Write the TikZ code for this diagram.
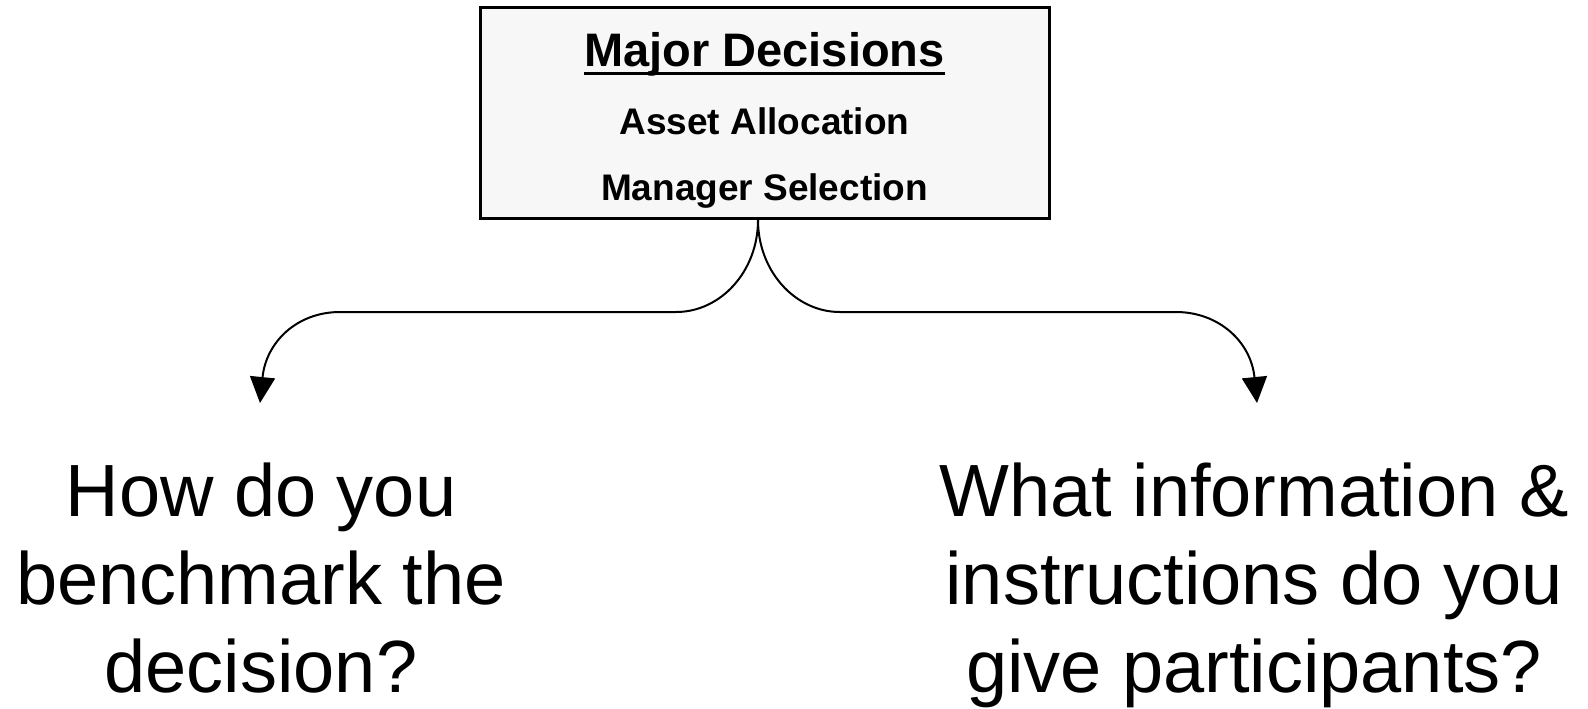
\documentclass[tikz,border=0pt]{standalone}
\usepackage{fontspec}
\setmainfont{Liberation Sans}
\usetikzlibrary{arrows.meta}
\definecolor{boxfill}{HTML}{F7F7F7}
\tikzset{
  mainbox/.style={draw=black, line width=1.5pt, fill=boxfill, minimum width=284.5pt, minimum height=105.8pt, inner sep=0pt},
  titletext/.style={font=\fontsize{23.5}{28}\selectfont\bfseries, anchor=base, inner sep=0pt},
  itemtext/.style={font=\fontsize{18.5}{22}\selectfont\bfseries, anchor=base, inner sep=0pt},
  question/.style={font=\fontsize{37}{44}\selectfont, align=center, anchor=base, inner sep=0pt},
  flow/.style={line width=1pt, -{Triangle[length=13pt,width=12.5pt]}},
  uline/.style={line width=1.6pt}
}
\begin{document}
\begin{tikzpicture}[x=0.5pt,y=-0.5pt]
\useasboundingbox (0,0) rectangle (1588,708);
\node[mainbox] (box) at (764.5,112.9) {};
\node[titletext] (title) at (764.5,66) {Major Decisions};
\draw[uline] ([yshift=-3.6pt]title.base west) -- ([yshift=-3.6pt]title.base east);
\node[itemtext] (asset) at (764.5,134) {Asset Allocation};
\node[itemtext] (mgr) at (764.5,200) {Manager Selection};
\node[question] (q1) at (261,692) {How do you\\benchmark the\\decision?};
\node[question] (q2) at (1254,692) {What information \&\\instructions do you\\give participants?};
\coordinate (s) at (758,220);
\coordinate (t1) at (260,403);
\coordinate (t2) at (1257,403);
\draw[flow] (s) .. controls (758,271) and (721,312) .. (676,312) -- (340,312) .. controls (297,312) and (266,342) .. (t1);
\draw[flow] (s) .. controls (758,271) and (795,312) .. (840,312) -- (1176,312) .. controls (1219,312) and (1251,342) .. (t2);
\end{tikzpicture}
\end{document}
